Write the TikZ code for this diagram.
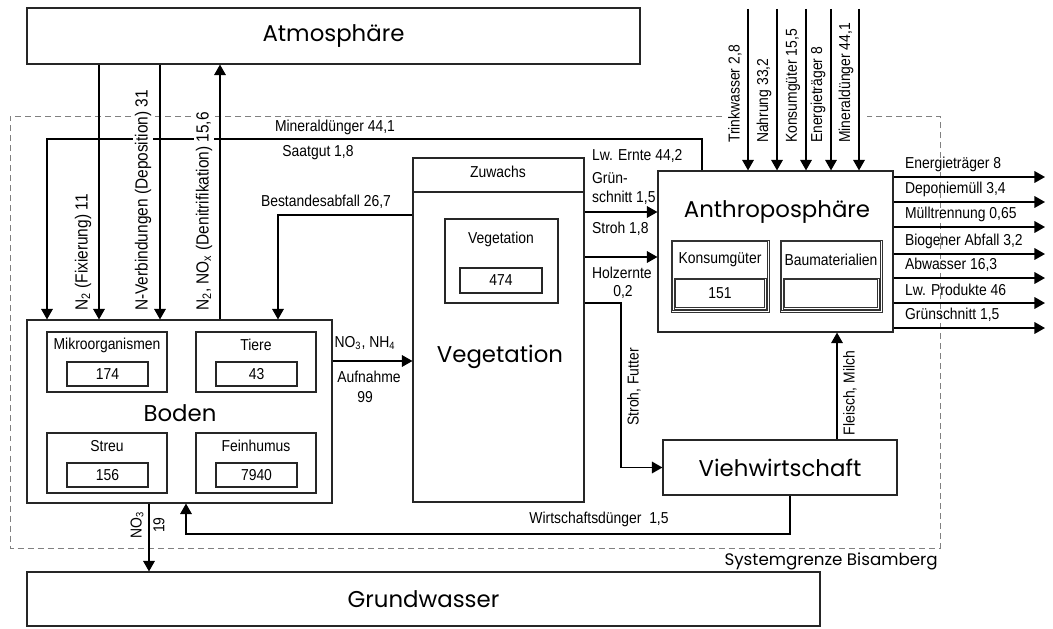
\documentclass[tikz,border=0pt]{standalone}
\usepackage{fontspec}
\setmainfont{Liberation Sans}[FakeStretch=0.88]
\newfontfamily\titelfont{Poppins}
\usetikzlibrary{arrows.meta, fit}

\begin{document}
\begin{tikzpicture}[x=0.02cm, y=-0.02cm,
  kasten/.style={draw=black!85, line width=0.6pt, inner sep=0pt},
  duenn/.style={draw=black!80, line width=0.4pt, inner sep=0pt},
  fluss/.style={line width=1.1pt, -{Triangle[length=6pt,width=6.5pt]}},
  txt/.style={font=\fontsize{9}{10}\selectfont, inner sep=1pt},
  drehtxt/.style={txt, rotate=90, fill=white},
  grosstxt/.style={drehtxt, font=\fontsize{10}{11}\selectfont},
  titel/.style={font=\titelfont\fontsize{13}{15}\selectfont, inner sep=0pt}]
  \useasboundingbox (0,0) rectangle (1053,628);
  % Systemgrenze
  \draw[gray, dash pattern=on 3.4pt off 2.3pt, line width=0.5pt] (722,116) -- (10,116) -- (10,548) -- (940,548) -- (940,116) -- (867,116);
  \node[anchor=east, font=\titelfont\fontsize{9.5}{12}\selectfont, inner sep=0pt] (grenze) at (938,561) {Systemgrenze Bisamberg};
  % Kästen
  \node[kasten, fit={(27,8) (640,64)}] (atmo) {};
  \node[kasten, fit={(27,572) (820,626)}] (grund) {};
  \node[kasten, fit={(27,320) (332,503)}] (boden) {};
  \node[kasten, fit={(413,158) (584,502)}] (veg) {};
  \node[kasten, fit={(658,171) (893,332)}] (anthro) {};
  \node[kasten, fit={(663,440) (897,495)}] (vieh) {};
  \draw[kasten] (veg.west |- 0,192) -- (veg.east |- 0,192);
  \node[titel] at (atmo) {Atmosphäre};
  \node[titel] at (grund) {Grundwasser};
  \node[titel] at (180,413) {Boden};
  \node[titel] at (500,357) {Vegetation};
  \node[titel] at (777,212) {Anthroposphäre};
  \node[titel] at (vieh) {Viehwirtschaft};
  % Boden
  \foreach \name/\x/\y/\titel/\wert in {mikro/47/332/Mikroorganismen/174, tiere/196/332/Tiere/43,
      streu/47/433/Streu/156, humus/196/433/Feinhumus/7940} {
    \node[kasten, fit={(\x,\y) (\x+120,\y+60)}] (\name) {};
    \node[txt] at (\x+60,\y+13) {\titel};
    \node[kasten, fit={(\x+20,\y+30) (\x+101,\y+54)}] (\name-wert) {};
    \node[txt] at (\name-wert) {\wert};
  }
  % Vegetation
  \node[txt] at (498,172) {Zuwachs};
  \node[kasten, fit={(445,219) (558,303)}] (vegin) {};
  \node[txt] at (501,239) {Vegetation};
  \node[kasten, fit={(460,268) (542,293)}] (veg-wert) {};
  \node[txt] at (veg-wert) {474};
  % Anthroposphäre (Doppelrahmen)
  \foreach \name/\xa/\xb/\wa/\wb in {konsum/671/769/674/766, bau/780/882/783/879} {
    \node[duenn, fit={(\xa,240) (\xb,312)}] (\name) {};
    \node[duenn, fit={(\xa+1.6,241.6) (\xb-1.6,310.4)}] {};
    \node[duenn, fit={(\wa,278) (\wb,309)}] (\name-wert) {};
    \node[duenn, fit={(\wa+1.6,279.6) (\wb-1.6,307.4)}] {};
  }
  \node[txt] at (720,260) {Konsumgüter};
  \node[txt] at (konsum-wert) {151};
  \node[txt] at (831,260) {Baumaterialien};
  % Flüsse Atmosphäre
  \draw[fluss] (atmo.south -| 99,0) -- (boden.north -| 99,0);
  \draw[fluss] (atmo.south -| 160,0) -- (boden.north -| 160,0);
  \draw[fluss] (boden.north -| 220,0) -- (atmo.south -| 220,0);
  % Mineraldünger, Bestandesabfall
  \draw[fluss] (anthro.north -| 702,0) -- (702,139) -- (47,139) -- (boden.north -| 47,0);
  \draw[fluss] (veg.west |- 0,215) -- (278,215) -- (boden.north -| 278,0);
  \draw[fluss] (boden.east |- 0,361) -- (veg.west |- 0,361);
  % Ernte
  \draw[fluss] (veg.east |- 0,212) -- (anthro.west |- 0,212);
  \draw[fluss] (veg.east |- 0,257) -- (anthro.west |- 0,257);
  \draw[fluss] (veg.east |- 0,303) -- (621,303) -- (vieh.west -| 621,0) -- (vieh.west);
  \draw[fluss] (vieh.north -| 837,0) -- (anthro.south -| 837,0);
  \draw[fluss] (vieh.south -| 790,0) -- (790,534) -- (186,534) -- (boden.south -| 186,0);
  \draw[fluss] (boden.south -| 149,0) -- (grund.north -| 149,0);
  % Importe
  \foreach \x/\t [count=\i] in {748/{Trinkwasser 2,8}, 777/{Nahrung 33,2}, 806/{Konsumgüter 15,5},
      831/{Energieträger 8}, 859/{Mineraldünger 44,1}} {
    \coordinate (ein\i) at (\x,9);
    \draw[fluss] (ein\i) -- (anthro.north -| ein\i);
    \node[drehtxt, anchor=west] at (\x-13,145) {\t};
  }
  % Exporte
  \foreach \y/\t [count=\i] in {177/{Energieträger 8}, 202/{Deponiemüll 3,4}, 227/{Mülltrennung 0,65},
      254/{Biogener Abfall 3,2}, 278/{Abwasser 16,3}, 303/{Lw. Produkte 46}, 328/{Grünschnitt 1,5}} {
    \coordinate (aus\i) at (1045,\y);
    \draw[fluss] (anthro.east |- aus\i) -- (aus\i);
    \node[txt, anchor=west] at (903,\y-13) {\t};
  }
  % Beschriftungen
  \node[grosstxt, anchor=west] at (83,313) {N\textsubscript{2} (Fixierung) 11};
  \node[grosstxt, anchor=west] at (143,313) {N-Verbindungen (Deposition) 31};
  \node[grosstxt, anchor=west] at (204,313) {N\textsubscript{2}, NO\textsubscript{x} (Denitrifikation) 15,6};
  \node[txt] at (335,127) {Mineraldünger 44,1};
  \node[txt] at (318,153) {Saatgut 1,8};
  \node[txt] at (326,202) {Bestandesabfall 26,7};
  \node[txt] at (365,343) {NO\textsubscript{3}, NH\textsubscript{4}};
  \node[txt] at (369,377) {Aufnahme};
  \node[txt] at (365,397) {99};
  \node[txt, anchor=west] at (590,156) {Lw. Ernte 44,2};
  \node[txt, anchor=west] at (590,178) {Grün-};
  \node[txt, anchor=west] at (590,198) {schnitt 1,5};
  \node[txt, anchor=west] at (590,229) {Stroh 1,8};
  \node[txt, anchor=west] at (590,273) {Holzernte};
  \node[txt] at (623,292) {0,2};
  \node[txt, rotate=90] at (634,387) {Stroh, Futter};
  \node[txt, rotate=90] at (850,393) {Fleisch, Milch};
  \node[txt] at (599,519) {Wirtschaftsdünger\ \ 1,5};
  \node[txt, rotate=90] at (137,525) {NO\textsubscript{3}};
  \node[txt, rotate=90] at (159,525) {19};
\end{tikzpicture}
\end{document}
